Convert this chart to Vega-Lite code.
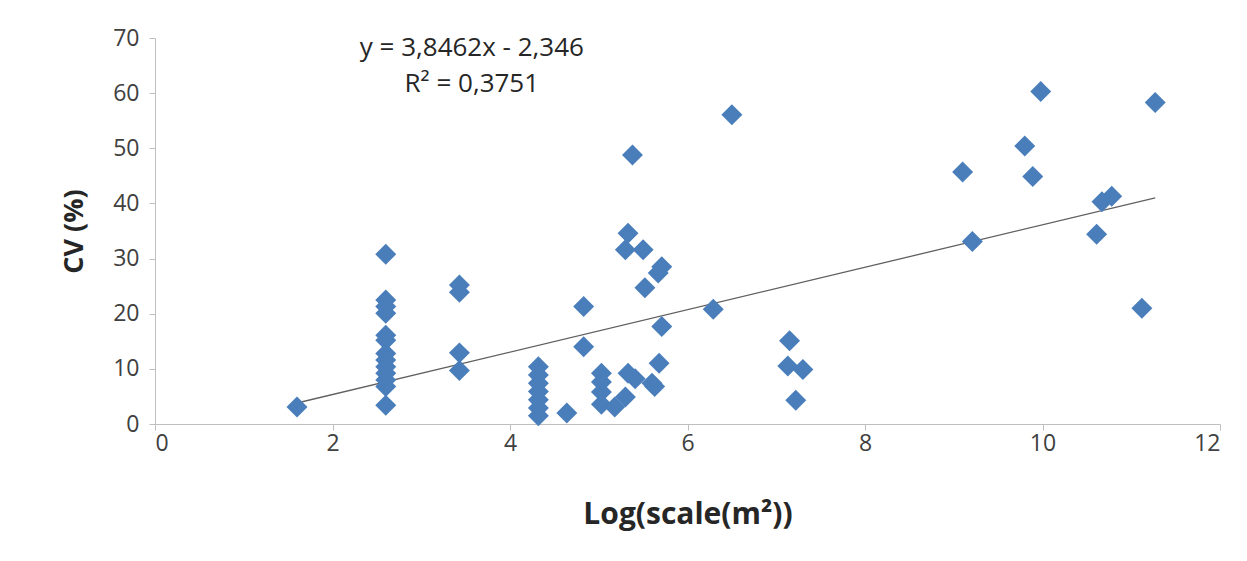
{
  "$schema": "https://vega.github.io/schema/vega-lite/v6.json",
  "autosize": "none",
  "width": 1065,
  "height": 386,
  "padding": {"left": 155, "top": 38, "right": 27, "bottom": 137},
  "background": "white",
  "config": {"view": {"stroke": null}, "font": "Open Sans"},
  "datasets": {
    "pts": [
      {"x": 1.6, "y": 3.1},
      {"x": 2.6, "y": 30.8}, {"x": 2.6, "y": 22.5}, {"x": 2.6, "y": 21.3}, {"x": 2.6, "y": 20.1},
      {"x": 2.6, "y": 16.1}, {"x": 2.6, "y": 15.2}, {"x": 2.6, "y": 12.8}, {"x": 2.6, "y": 11.6},
      {"x": 2.6, "y": 10.4}, {"x": 2.6, "y": 9.2}, {"x": 2.6, "y": 8.0}, {"x": 2.6, "y": 6.8},
      {"x": 2.6, "y": 3.4},
      {"x": 3.43, "y": 25.2}, {"x": 3.43, "y": 23.9}, {"x": 3.43, "y": 12.9}, {"x": 3.43, "y": 9.7},
      {"x": 4.32, "y": 10.4}, {"x": 4.32, "y": 8.9}, {"x": 4.32, "y": 7.4}, {"x": 4.32, "y": 5.9},
      {"x": 4.32, "y": 4.4}, {"x": 4.32, "y": 2.9}, {"x": 4.32, "y": 1.5},
      {"x": 4.64, "y": 2.0},
      {"x": 4.83, "y": 21.3}, {"x": 4.83, "y": 14.0},
      {"x": 5.03, "y": 9.2}, {"x": 5.03, "y": 7.6}, {"x": 5.03, "y": 5.8}, {"x": 5.03, "y": 3.6},
      {"x": 5.18, "y": 3.1}, {"x": 5.3, "y": 4.9}, {"x": 5.33, "y": 9.2}, {"x": 5.41, "y": 8.2},
      {"x": 5.6, "y": 7.4}, {"x": 5.63, "y": 6.8}, {"x": 5.68, "y": 11.0}, {"x": 5.71, "y": 17.7},
      {"x": 5.33, "y": 34.6}, {"x": 5.3, "y": 31.6}, {"x": 5.5, "y": 31.6}, {"x": 5.71, "y": 28.5},
      {"x": 5.67, "y": 27.4}, {"x": 5.52, "y": 24.7}, {"x": 5.38, "y": 48.8},
      {"x": 6.29, "y": 20.8}, {"x": 6.5, "y": 56.1},
      {"x": 7.15, "y": 15.1}, {"x": 7.13, "y": 10.5}, {"x": 7.3, "y": 9.9}, {"x": 7.22, "y": 4.3},
      {"x": 9.1, "y": 45.7}, {"x": 9.21, "y": 33.1}, {"x": 9.8, "y": 50.4}, {"x": 9.89, "y": 44.9},
      {"x": 9.98, "y": 60.3}, {"x": 10.61, "y": 34.4}, {"x": 10.67, "y": 40.3}, {"x": 10.78, "y": 41.3},
      {"x": 11.12, "y": 21.0}, {"x": 11.27, "y": 58.3}
    ],
    "trend": [
      {"x": 1.6, "y": 3.808},
      {"x": 11.27, "y": 41.0}
    ],
    "labels": [
      {"x": 3.57, "y": 68.2, "t": "y = 3,8462x - 2,346"},
      {"x": 3.57, "y": 61.6, "t": "R² = 0,3751"}
    ]
  },
  "encoding": {
    "x": {
      "field": "x", "type": "quantitative",
      "scale": {"domain": [0, 12], "nice": false, "zero": false},
      "axis": {
        "title": "Log(scale(m²))", "values": [0, 2, 4, 6, 8, 10, 12], "grid": false,
        "domainColor": "#bfbfbf", "tickColor": "#bfbfbf", "tickSize": 6,
        "labelFontSize": 23, "labelColor": "#404040", "labelPadding": 2,
        "titleFontSize": 30, "titleFontWeight": "bold", "titleColor": "#262626", "titlePadding": 44
      }
    },
    "y": {
      "field": "y", "type": "quantitative",
      "scale": {"domain": [0, 70], "nice": false},
      "axis": {
        "title": "CV (%)", "values": [0, 10, 20, 30, 40, 50, 60, 70], "grid": false,
        "domainColor": "#bfbfbf", "tickColor": "#bfbfbf", "tickSize": 6,
        "labelFontSize": 23, "labelColor": "#404040", "labelPadding": 10,
        "titleFontSize": 27, "titleFontWeight": "bold", "titleColor": "#262626", "titlePadding": 24
      }
    }
  },
  "layer": [
    {
      "data": {"name": "trend"},
      "mark": {"type": "line", "color": "#606060", "strokeWidth": 1.3}
    },
    {
      "data": {"name": "pts"},
      "mark": {"type": "point", "shape": "diamond", "filled": true, "size": 440, "color": "#4a7ebb", "opacity": 1}
    },
    {
      "data": {"name": "labels"},
      "mark": {"type": "text", "fontSize": 26, "color": "#262626", "align": "center", "baseline": "middle"},
      "encoding": {"text": {"field": "t"}}
    }
  ]
}
